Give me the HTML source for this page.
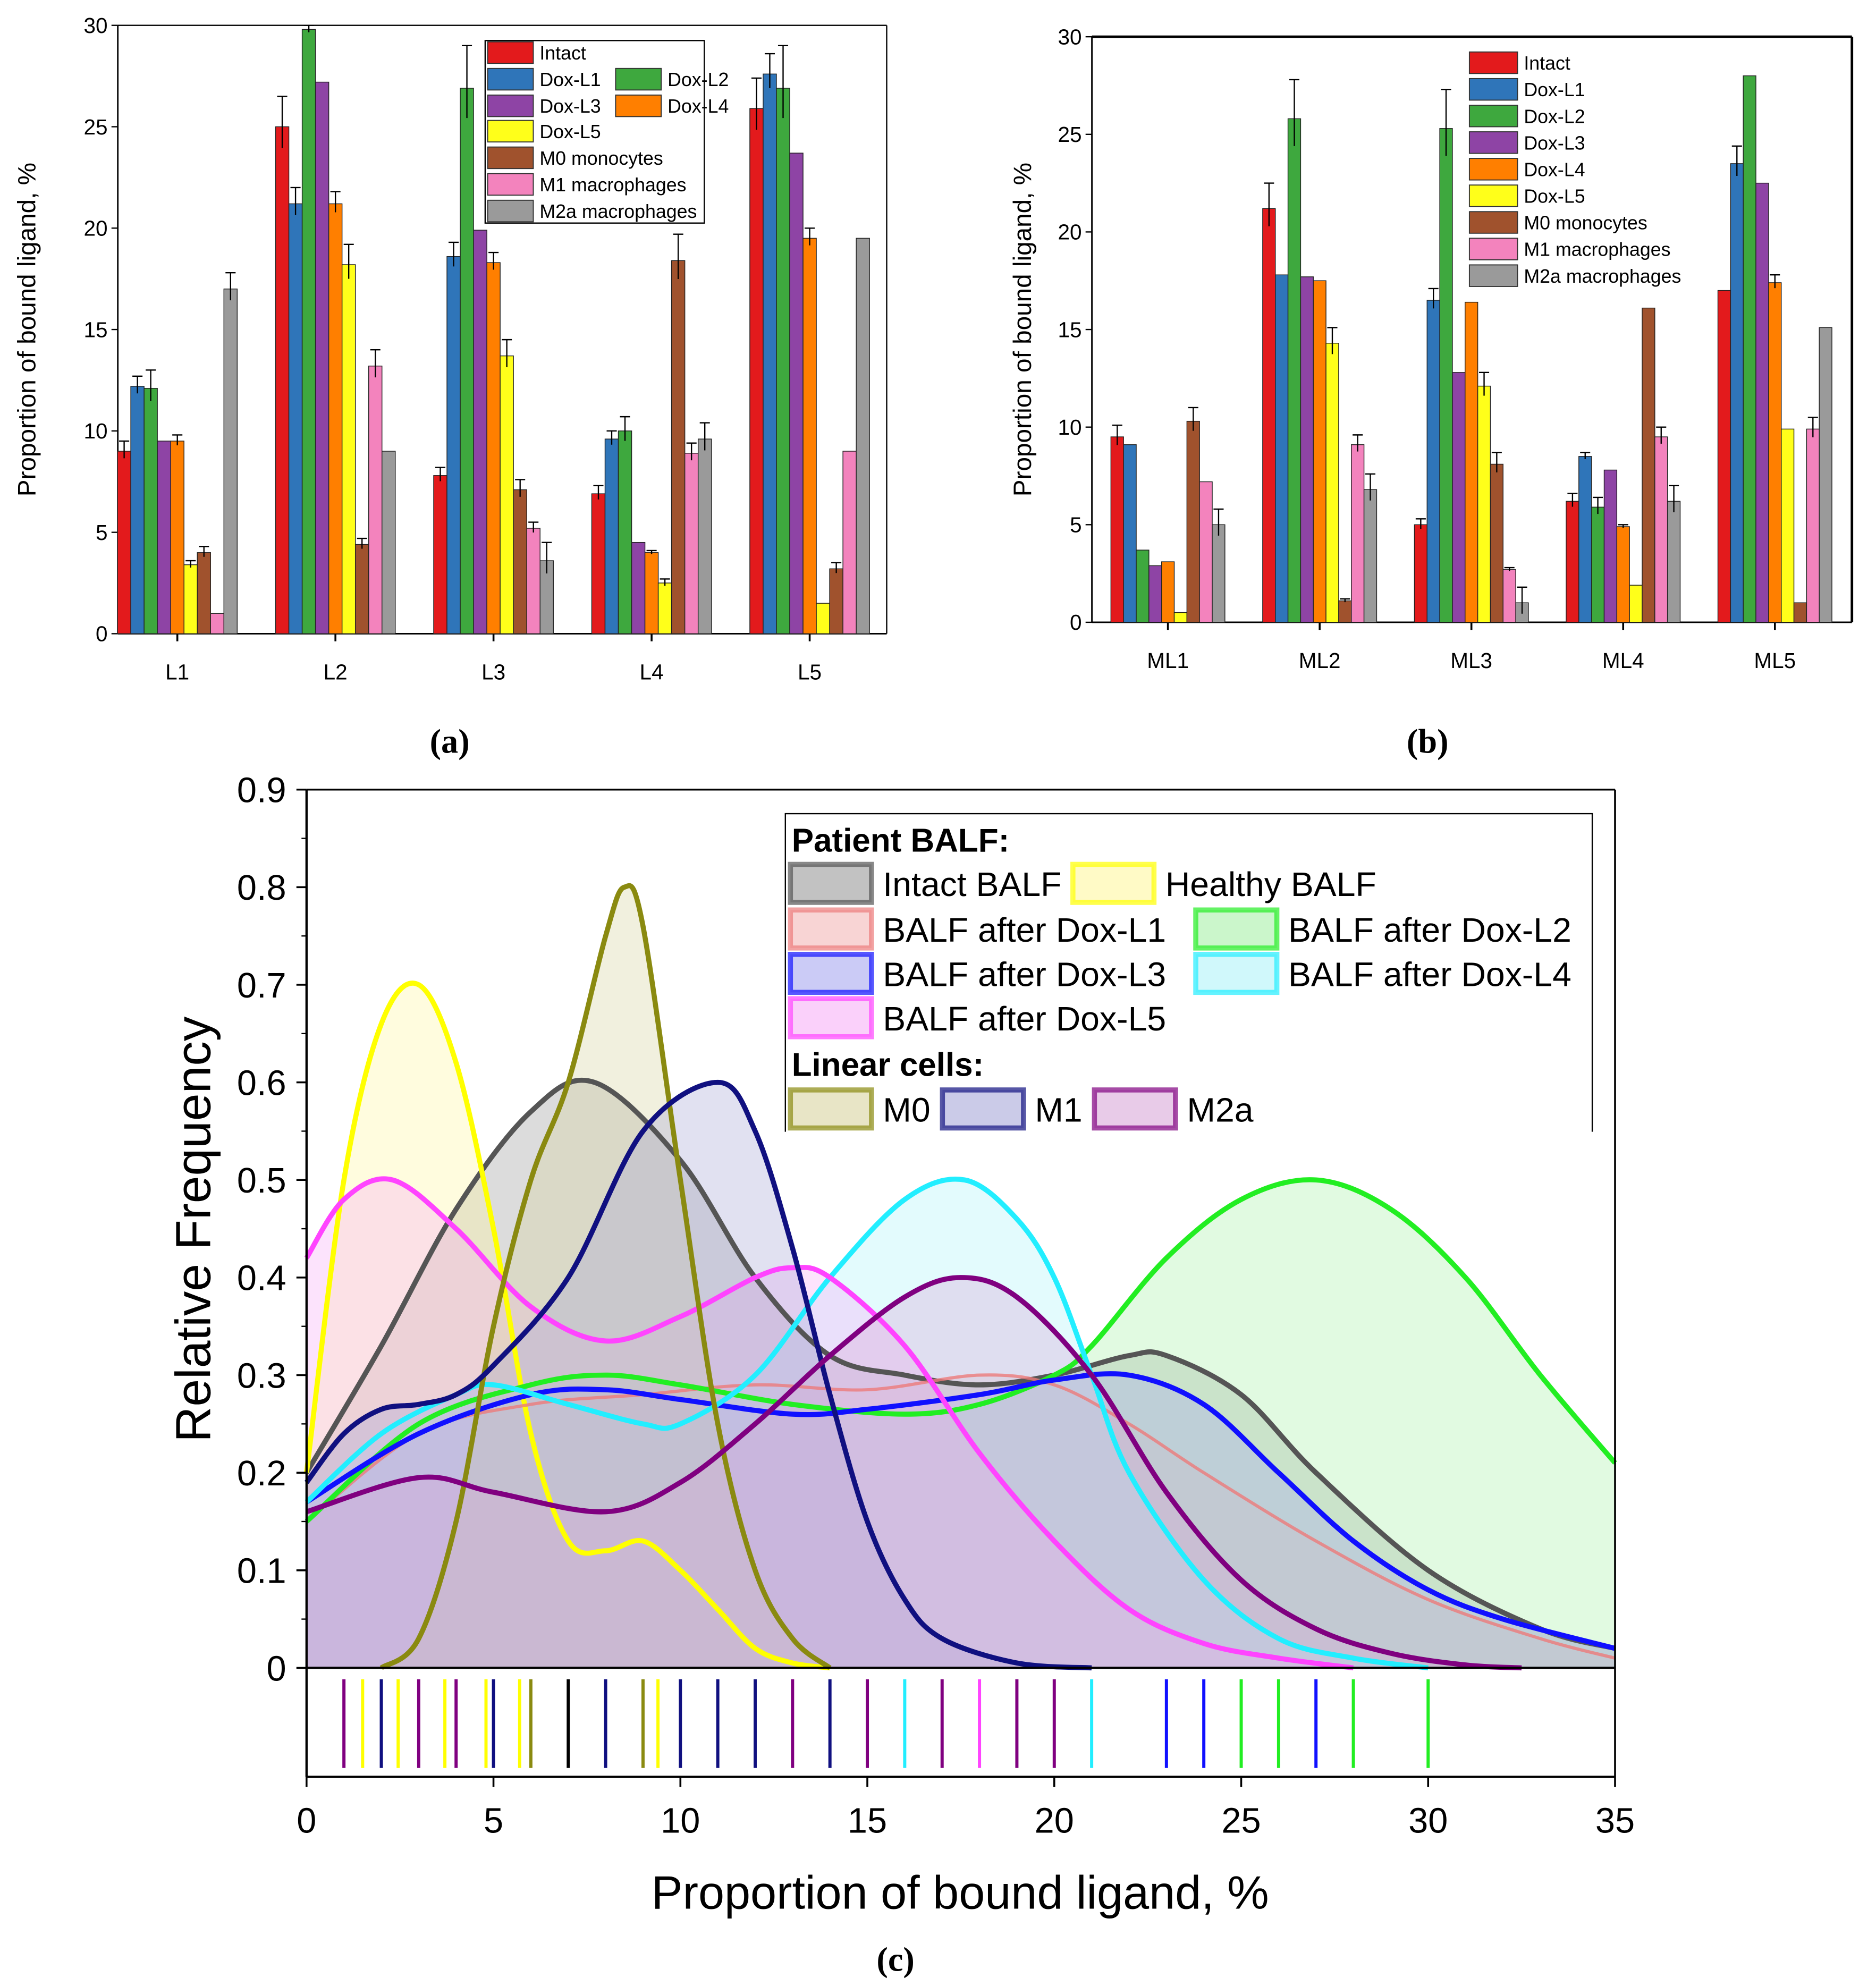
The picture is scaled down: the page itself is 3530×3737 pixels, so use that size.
<!DOCTYPE html>
<html><head><meta charset="utf-8"><style>
html,body{margin:0;padding:0;background:#fff;}
svg{display:block;font-family:"Liberation Sans",sans-serif;}
</style></head><body>
<svg id="s" width="3530" height="3737" viewBox="0 0 1481 1567" preserveAspectRatio="none" xmlns="http://www.w3.org/2000/svg"></svg>
<script>
const seriesNames=["Intact","Dox-L1","Dox-L2","Dox-L3","Dox-L4","Dox-L5","M0 monocytes","M1 macrophages","M2a macrophages"];
const seriesColors=["#e31a1c","#2f75b9","#3ea83e","#8e44a5","#ff7f00","#ffff1a","#a0522d","#f383bd","#9a9a9a"];
const catsA=["L1","L2","L3","L4","L5"];
const valsA=[[9,12.2,12.1,9.5,9.5,3.4,4.0,1.0,17],[25,21.2,29.8,27.2,21.2,18.2,4.4,13.2,9.0],[7.8,18.6,26.9,19.9,18.3,13.7,7.1,5.2,3.6],[6.9,9.6,10.0,4.5,4.0,2.5,18.4,8.9,9.6],[25.9,27.6,26.9,23.7,19.5,1.5,3.2,9.0,19.5]];
const errA=[[0.5,0.5,0.9,0,0.3,0.2,0.3,0,0.8],[1.5,0.8,0.2,0,0.6,1.0,0.3,0.8,0],[0.4,0.7,2.1,0,0.5,0.8,0.5,0.3,0.9],[0.4,0.4,0.7,0,0.1,0.2,1.3,0.5,0.8],[1.5,1.0,2.1,0,0.5,0,0.3,0,0]];
const catsB=["ML1","ML2","ML3","ML4","ML5"];
const valsB=[[9.5,9.1,3.7,2.9,3.1,0.5,10.3,7.2,5.0],[21.2,17.8,25.8,17.7,17.5,14.3,1.1,9.1,6.8],[5.0,16.5,25.3,12.8,16.4,12.1,8.1,2.7,1.0],[6.2,8.5,5.9,7.8,4.9,1.9,16.1,9.5,6.2],[17.0,23.5,28.0,22.5,17.4,9.9,1.0,9.9,15.1]];
const errB=[[0.6,0,0,0,0,0,0.7,0,0.8],[1.3,0,2.0,0,0,0.8,0.1,0.5,0.8],[0.3,0.6,2.0,0,0,0.7,0.6,0.1,0.8],[0.4,0.2,0.5,0,0.1,0,0,0.5,0.8],[0,0.9,0,0,0.4,0,0,0.6,0]];
const yTicksBar=[0,5,10,15,20,25,30];
const curveNames=["Intact BALF","Healthy BALF","BALF after Dox-L1","BALF after Dox-L2","BALF after Dox-L3","BALF after Dox-L4","BALF after Dox-L5","M0","M1","M2a"];
const curveColors=["#555555","#ffff00","#ec7a7a","#22ee22","#1010ff","#22eeff","#ff44ff","#8a8a10","#101080","#800080"];
const curveFills=["#9a9a9a","#fff7a0","#f4b8b8","#a8f0a8","#a8a8f0","#b0f4f8","#f6b0f6","#d8d4a0","#a8a8d8","#d8a8d8"];
const cx0=[0,2,4,6,7.7,10,12,14,16,18,20,22,23,25,27,30,33,35];
const cy0=[0.2,0.33,0.47,0.57,0.6,0.52,0.4,0.32,0.3,0.29,0.3,0.32,0.32,0.28,0.2,0.1,0.04,0.02];
const cx1=[0,1,2,3,4,5,6,7,8,9,10,11,12,13,14];
const cy1=[0.2,0.5,0.66,0.70,0.62,0.45,0.24,0.13,0.12,0.13,0.10,0.06,0.02,0.005,0];
const cx2=[0,3,6,9,12,15,18,20,22,24,27,30,33,35];
const cy2=[0.15,0.24,0.27,0.28,0.29,0.285,0.3,0.29,0.25,0.2,0.13,0.07,0.03,0.01];
const cx3=[0,3,6,8,10,13,16,18,20,21,23,25,27,29,31,33,35];
const cy3=[0.15,0.25,0.29,0.3,0.29,0.27,0.26,0.27,0.3,0.33,0.42,0.48,0.5,0.47,0.4,0.3,0.21];
const cx4=[0,3,6,8,10,13,15,18,20,22,24,26,28,30,32,35];
const cy4=[0.17,0.24,0.28,0.285,0.275,0.26,0.265,0.28,0.295,0.30,0.27,0.2,0.13,0.08,0.05,0.02];
const cx5=[0,2,4,5,7,9,10,12,14,16,17.6,19,20,21,22,24,26,28,30];
const cy5=[0.17,0.24,0.28,0.29,0.27,0.25,0.25,0.3,0.40,0.48,0.5,0.46,0.4,0.3,0.2,0.09,0.03,0.01,0];
const cx6=[0,1,2.3,4,6,8,10,12,13,14,16,18,20,22,24,26,28];
const cy6=[0.42,0.48,0.5,0.45,0.37,0.335,0.36,0.4,0.41,0.40,0.33,0.22,0.13,0.06,0.025,0.01,0];
const cx7=[2,3,4,5,6,7,8,8.5,9,10,11,12,13,14];
const cy7=[0,0.03,0.15,0.35,0.5,0.6,0.75,0.8,0.76,0.5,0.25,0.1,0.03,0];
const cx8=[0,1,2,3,4,5,7,9,11,12,13,14,15,16,17,19,21];
const cy8=[0.19,0.24,0.265,0.27,0.28,0.31,0.4,0.55,0.6,0.55,0.43,0.28,0.15,0.07,0.03,0.005,0];
const cx9=[0,3,5,8,10,12,14,16,17.5,19,21,23,25,27,29,31,32.5];
const cy9=[0.16,0.195,0.18,0.16,0.19,0.25,0.32,0.38,0.40,0.38,0.3,0.18,0.09,0.04,0.015,0.003,0];
const rugX=[1,1.5,2,2.45,3,3.7,4,4.8,5,5.7,6,7,8,9,9.4,10,11,12,13,14,15,16,17,18,19,20,21,23,24,25,26,27,28,30];
const rugColor=["#800080","#ffff00","#101080","#ffff00","#800080","#ffff00","#800080","#ffff00","#101080","#ffff00","#8a8a10","#000000","#101080","#8a8a10","#ffff00","#101080","#101080","#101080","#800080","#101080","#800080","#22eeff","#800080","#ff44ff","#800080","#800080","#22eeff","#1010ff","#1010ff","#22ee22","#22ee22","#1010ff","#22ee22","#22ee22"];
const xTicksC=[0,5,10,15,20,25,30,35];
const yTicksC=[0,0.1,0.2,0.3,0.4,0.5,0.6,0.7,0.8,0.9];

const S=document.getElementById('s');
const NS="http://www.w3.org/2000/svg";
function mk(tag,attrs,parent){const e=document.createElementNS(NS,tag);for(const k in attrs)e.setAttribute(k,attrs[k]);(parent||S).appendChild(e);return e;}
function txt(str,attrs,parent){const e=mk('text',attrs,parent);e.textContent=str;return e;}

function barPanel(cfg){
  const g=mk('g',{});
  
  
  const y=v=>cfg.y0-(v/30)*(cfg.y0-cfg.y30);
  const gx=i=>cfg.c0+i*cfg.step;
  mk('line',{x1:cfg.left,y1:cfg.y30,x2:cfg.left,y2:cfg.y0,stroke:'#000','stroke-width':1.2},g);
  mk('line',{x1:cfg.left,y1:cfg.y0,x2:cfg.right,y2:cfg.y0,stroke:'#000','stroke-width':1.2},g);
  mk('line',{x1:cfg.right,y1:cfg.y30,x2:cfg.right,y2:cfg.y0,stroke:'#000','stroke-width':cfg.frameW},g);
  mk('line',{x1:cfg.left,y1:cfg.y30,x2:cfg.right,y2:cfg.y30,stroke:'#000','stroke-width':cfg.frameW},g);
  yTicksBar.forEach(t=>{
    mk('line',{x1:cfg.left-5,y1:y(t),x2:cfg.left,y2:y(t),stroke:'#000','stroke-width':1},g);
    const tl=txt(String(t),{x:cfg.left-8,y:y(t)+6,'text-anchor':'end','font-size':17},g);
    
    
  });
  const yl=txt('Proportion of bound ligand, %',{x:0,y:0,'font-size':20,'text-anchor':'middle',transform:`translate(${cfg.ylx},${(cfg.y0+cfg.y30)/2}) rotate(-90)`},g);
  
  
  cfg.cats.forEach((c,i)=>{
    mk('line',{x1:gx(i),y1:cfg.y0,x2:gx(i),y2:cfg.y0+6,stroke:'#000','stroke-width':1.5},g);
    const cl=txt(c,{x:gx(i),y:cfg.y0+36,'text-anchor':'middle','font-size':17},g);
    
    
    cfg.vals[i].forEach((v,j)=>{
      const bx=gx(i)-4.5*cfg.bw+j*cfg.bw;
      const r=mk('rect',{x:bx,y:y(v),width:cfg.bw,height:y(0)-y(v),fill:seriesColors[j],stroke:'#222','stroke-width':0.6},g);
      
      
      const e=cfg.errs[i][j];
      if(e>0){
        mk('line',{x1:bx+cfg.bw/2,y1:y(v+e),x2:bx+cfg.bw/2,y2:y(v-e*0.7),stroke:'#000','stroke-width':1},g);
        mk('line',{x1:bx+cfg.bw/2-4,y1:y(v+e),x2:bx+cfg.bw/2+4,y2:y(v+e),stroke:'#000','stroke-width':1},g);
      }
    });
  });
  const lab=txt(cfg.label,{x:cfg.labx,y:594,'text-anchor':'middle','font-size':27,'font-weight':'bold','font-family':'"Liberation Serif",serif'});
  
  
  const lg=mk('g',{},g);
  
  
  if(cfg.legBox) mk('rect',{x:cfg.legBox[0],y:cfg.legBox[1],width:cfg.legBox[2],height:cfg.legBox[3],fill:'#fff',stroke:'#000','stroke-width':1},lg);
  cfg.legItems.forEach(it=>{
    const [si,lx,ly]=it;
    mk('rect',{x:lx,y:ly-8,width:cfg.sw,height:17,fill:seriesColors[si],stroke:'#333','stroke-width':0.8},lg);
    const t=txt(seriesNames[si],{x:lx+cfg.sw+5,y:ly+6,'font-size':15},lg);
    
    
  });
}
barPanel({name:'panel-a-chart',left:93,right:700,y0:500,y30:20,c0:140,step:124.8,bw:10.5,cats:catsA,vals:valsA,errs:errA,ylx:28,label:'(a)',labx:355,frameW:1,sw:36,
  legBox:[383,32,173,144],
  legItems:[[0,385,41],[1,385,62],[2,486,62],[3,385,83],[4,486,83],[5,385,103],[6,385,124],[7,385,145],[8,385,166]]});
barPanel({name:'panel-b-chart',left:862,right:1462,y0:491,y30:29,c0:922,step:119.8,bw:10,cats:catsB,vals:valsB,errs:errB,ylx:814,label:'(b)',labx:1127,frameW:2,sw:38,
  legBox:null,
  legItems:[0,1,2,3,4,5,6,7,8].map(i=>[i,1160,49+i*21])});

const gc=mk('g',{});


const X=v=>242+v*(1275-242)/35;
const Y=v=>1316-v*(1316-623)/0.9;
function smooth(xs,ys){
  const p=xs.map((x,i)=>[X(x),Y(ys[i])]);
  let d=`M${p[0][0]},${p[0][1]}`;
  for(let i=0;i<p.length-1;i++){
    const p0=p[Math.max(i-1,0)],p1=p[i],p2=p[i+1],p3=p[Math.min(i+2,p.length-1)];
    const c1=[p1[0]+(p2[0]-p0[0])/6,Math.min(1316,p1[1]+(p2[1]-p0[1])/6)];
    const c2=[p2[0]-(p3[0]-p1[0])/6,Math.min(1316,p2[1]-(p3[1]-p1[1])/6)];
    d+=` C${c1[0]},${c1[1]} ${c2[0]},${c2[1]} ${p2[0]},${p2[1]}`;
  }
  return d;
}
const CX=[cx0,cx1,cx2,cx3,cx4,cx5,cx6,cx7,cx8,cx9];
const CY=[cy0,cy1,cy2,cy3,cy4,cy5,cy6,cy7,cy8,cy9];
CX.forEach((xs,i)=>{
  const d=smooth(xs,CY[i]);
  const f=mk('path',{d:d+` L${X(xs[xs.length-1])},${Y(0)} L${X(xs[0])},${Y(0)} Z`,fill:curveFills[i],'fill-opacity':0.35,stroke:'none'},gc);
  
  
});
CX.forEach((xs,i)=>{
  const l=mk('path',{d:smooth(xs,CY[i]),fill:'none',stroke:curveColors[i],'stroke-width':(i==2?2.5:4),'stroke-opacity':(i==2?0.8:1)},gc);
  
  
});
mk('line',{x1:242,y1:623,x2:1275,y2:623,stroke:'#000','stroke-width':1.5},gc);
mk('line',{x1:1275,y1:623,x2:1275,y2:1402,stroke:'#000','stroke-width':1.5},gc);
mk('line',{x1:242,y1:623,x2:242,y2:1402,stroke:'#000','stroke-width':1.8},gc);
mk('line',{x1:242,y1:1316,x2:1275,y2:1316,stroke:'#000','stroke-width':1.8},gc);
mk('line',{x1:242,y1:1402,x2:1275,y2:1402,stroke:'#000','stroke-width':1.8},gc);
yTicksC.forEach((t,i)=>{
  mk('line',{x1:234,y1:Y(t),x2:242,y2:Y(t),stroke:'#000','stroke-width':1.5},gc);
  if(i<9) mk('line',{x1:238,y1:Y(t+0.05),x2:242,y2:Y(t+0.05),stroke:'#000','stroke-width':1},gc);
  const tl=txt(t===0?'0':t.toFixed(1),{x:226,y:Y(t)+10,'text-anchor':'end','font-size':28},gc);
  
  
});
xTicksC.forEach(t=>{
  mk('line',{x1:X(t),y1:1402,x2:X(t),y2:1410,stroke:'#000','stroke-width':1.5},gc);
  const tl=txt(String(t),{x:X(t),y:1446,'text-anchor':'middle','font-size':28},gc);
  
  
});
rugX.forEach((v,i)=>{
  const r=mk('line',{x1:X(v),y1:1325,x2:X(v),y2:1395,stroke:rugColor[i],'stroke-width':2.5},gc);
  
  
});
const xt=txt('Proportion of bound ligand, %',{x:758,y:1506,'text-anchor':'middle','font-size':37},gc);


const yt=txt('Relative Frequency',{x:0,y:0,'text-anchor':'middle','font-size':39,transform:'translate(166,970) rotate(-90)'},gc);


const lc=txt('(c)',{x:707,y:1555,'text-anchor':'middle','font-size':27,'font-weight':'bold','font-family':'"Liberation Serif",serif'});


const lgc=mk('g',{},gc);


mk('rect',{x:620,y:642,width:637,height:251,fill:'#fff','fill-opacity':0.6,stroke:'none'},lgc);
mk('polyline',{points:'620,893 620,642 1257,642 1257,893',fill:'none',stroke:'#000','stroke-width':1},lgc);
const h1=txt('Patient BALF:',{x:625,y:672,'font-size':26,'font-weight':'bold'},lgc);


const h2=txt('Linear cells:',{x:625,y:849,'font-size':26,'font-weight':'bold'},lgc);


const legC=[[0,624,697],[1,847,697],[2,624,733],[3,944,733],[4,624,768],[5,944,768],[6,624,803],[7,624,875],[8,744,875],[9,864,875]];
legC.forEach(it=>{
  const [ci,lx,ly]=it;
  mk('rect',{x:lx,y:ly-15,width:64,height:30,fill:curveFills[ci],'fill-opacity':0.6,stroke:curveColors[ci],'stroke-width':4,'stroke-opacity':0.7},lgc);
  const t=txt(curveNames[ci],{x:lx+73,y:ly+10,'font-size':27},lgc);
  
  
});
</script>
</body></html>
